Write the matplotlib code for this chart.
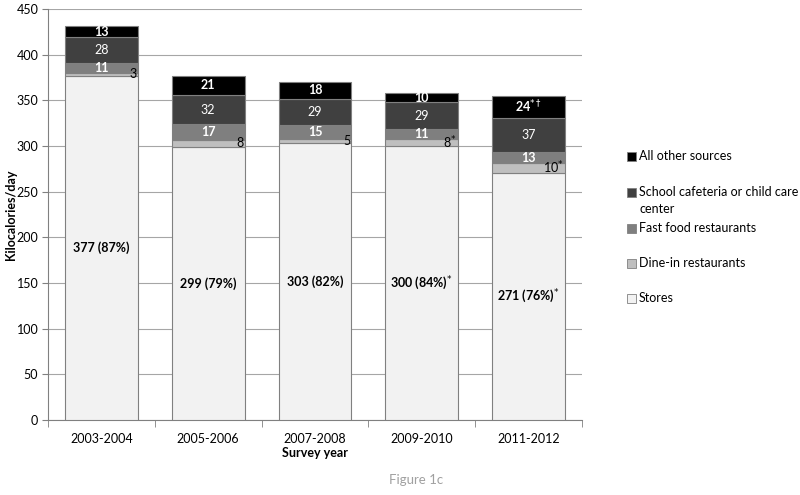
import numpy as np
import matplotlib.pyplot as plt
from matplotlib.patches import Rectangle

plt.rcParams['font.family'] = ['Lato', 'DejaVu Sans']

# Data
years = ["2003-2004", "2005-2006", "2007-2008", "2009-2010", "2011-2012"]
stores = [377, 299, 303, 300, 271]
dine_in = [3, 8, 5, 8, 10]
fast_food = [11, 17, 15, 11, 13]
school = [28, 32, 29, 29, 37]
other = [13, 21, 18, 10, 24]

stores_labels = ["377 (87%)", "299 (79%)", "303 (82%)", "300 (84%)$^{*}$", "271 (76%)$^{*}$"]
dine_labels = ["3", "8", "5", "8$^{*}$", "10$^{*}$"]
other_labels = ["13", "21", "18", "10", r"24$^{*\dagger}$"]

series = [
    ("Stores", stores, "#f2f2f2"),
    ("Dine-in restaurants", dine_in, "#bfbfbf"),
    ("Fast food restaurants", fast_food, "#7f7f7f"),
    ("School cafeteria or child care\ncenter", school, "#404040"),
    ("All other sources", other, "#000000"),
]

fig = plt.figure(figsize=(8, 4.95), dpi=100)
ax = fig.add_axes([0.06, 0.1515, 0.6675, 0.83])

x = np.arange(len(years))
width = 0.68
bottom = np.zeros(len(years))
for name, vals, col in series:
    ax.bar(x, vals, width, bottom=bottom, color=col, edgecolor="#808080",
           linewidth=0.8, zorder=3)
    bottom += np.array(vals)

# Labels
fs = 9
for i in range(len(years)):
    b0 = 0
    ax.text(x[i], stores[i] / 2, stores_labels[i], ha="center", va="center",
            fontsize=fs, fontweight="bold", color="black", zorder=4)
    b0 += stores[i]
    ax.text(x[i] + width / 2 - 0.01, b0 + dine_in[i] / 2, dine_labels[i],
            ha="right", va="center", fontsize=fs, color="black", zorder=4)
    b0 += dine_in[i]
    ax.text(x[i], b0 + fast_food[i] / 2, str(fast_food[i]), ha="center", va="center",
            fontsize=fs, fontweight="bold", color="white", zorder=4)
    b0 += fast_food[i]
    ax.text(x[i], b0 + school[i] / 2, str(school[i]), ha="center", va="center",
            fontsize=fs, color="white", zorder=4)
    b0 += school[i]
    ax.text(x[i], b0 + other[i] / 2, other_labels[i], ha="center", va="center",
            fontsize=fs, fontweight="bold", color="white", zorder=4)

ax.set_ylim(0, 450)
ax.set_xlim(-0.5, len(years) - 0.5)
ax.set_yticks(np.arange(0, 451, 50))
ax.yaxis.grid(True, color="#a6a6a6", linewidth=0.8, zorder=0)
ax.set_axisbelow(True)
ax.set_xticks(x)
ax.set_xticklabels(years)
ax.set_xticks(np.arange(-0.5, len(years)), minor=True)
ax.tick_params(axis="x", which="major", length=0, labelsize=fs, pad=9)
ax.tick_params(axis="x", which="minor", length=5, color="#808080")
ax.tick_params(axis="y", labelsize=fs, length=4, color="#808080", pad=3)
for s in ["top", "right"]:
    ax.spines[s].set_visible(False)
for s in ["left", "bottom"]:
    ax.spines[s].set_color("#808080")

ax.set_ylabel("Kilocalories/day", fontsize=fs, fontweight="bold")
ax.yaxis.set_label_coords(-0.058, 0.5)
ax.set_xlabel("Survey year", fontsize=fs, fontweight="bold", labelpad=2)

# Legend drawn by hand to follow Excel spacing
leg_y = [156, 192, 228, 263, 298]
for (name, vals, col), yy in zip(reversed(series), leg_y):
    yf = 1 - yy / 495
    fig.patches.append(Rectangle((627 / 800, yf - 4.5 / 495), 9 / 800, 9 / 495,
                                 transform=fig.transFigure, facecolor=col,
                                 edgecolor="#808080", linewidth=0.6))
    fig.text(639 / 800, yf + 6 / 495, name, ha="left", va="top", fontsize=fs,
             linespacing=1.5)

fig.text(0.52, 0.03, "Figure 1c", ha="center", va="center", fontsize=fs + 0.5,
         color="#a0a0a0")

fig.savefig("out.png", dpi=100)
